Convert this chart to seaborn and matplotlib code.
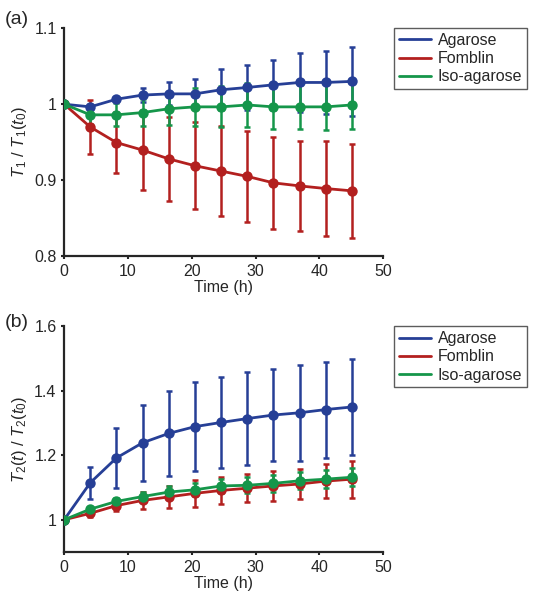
import numpy as np
import pandas as pd
import matplotlib
matplotlib.use('Agg')
import matplotlib.pyplot as plt
import seaborn as sns
from matplotlib.lines import Line2D
from matplotlib.ticker import FuncFormatter

# Dados
tempo = [0, 4.1, 8.2, 12.3, 16.4, 20.5, 24.6, 28.7, 32.8, 36.9, 41.0, 45.1]
series = ['Agarose', 'Fomblin', 'Iso-agarose']

# (a) T1 / T1(t0)
t1_agarose = [1.0, 0.9965, 1.0066, 1.012, 1.0136, 1.0136, 1.019, 1.022, 1.0255, 1.0286, 1.0286, 1.030]
t1_agarose_err = [0.0, 0.003, 0.003, 0.009, 0.015, 0.020, 0.027, 0.029, 0.033, 0.039, 0.041, 0.045]
t1_fomblin = [1.0, 0.970, 0.9495, 0.9396, 0.928, 0.919, 0.912, 0.905, 0.8965, 0.8925, 0.889, 0.886]
t1_fomblin_err = [0.0, 0.035, 0.0405, 0.0526, 0.0555, 0.057, 0.059, 0.060, 0.0605, 0.0595, 0.062, 0.062]
t1_iso = [1.0, 0.986, 0.986, 0.989, 0.994, 0.9965, 0.9965, 0.999, 0.9965, 0.9965, 0.9965, 0.999]
t1_iso_err = [0.0, 0.012, 0.015, 0.018, 0.021, 0.025, 0.027, 0.029, 0.029, 0.029, 0.031, 0.031]

# (b) T2(t) / T2(t0)
t2_agarose = [1.0, 1.115, 1.192, 1.239, 1.268, 1.289, 1.302, 1.314, 1.325, 1.332, 1.342, 1.350]
t2_agarose_err = [0.0, 0.05, 0.094, 0.118, 0.132, 0.139, 0.141, 0.145, 0.144, 0.149, 0.149, 0.148]
t2_fomblin = [1.0, 1.020, 1.044, 1.060, 1.071, 1.082, 1.091, 1.098, 1.105, 1.111, 1.120, 1.126]
t2_fomblin_err = [0.0, 0.010, 0.018, 0.026, 0.035, 0.041, 0.042, 0.043, 0.046, 0.048, 0.053, 0.057]
t2_iso = [1.0, 1.033, 1.057, 1.072, 1.086, 1.093, 1.105, 1.107, 1.113, 1.121, 1.126, 1.132]
t2_iso_err = [0.0, 0.005, 0.010, 0.015, 0.018, 0.020, 0.022, 0.025, 0.026, 0.027, 0.028, 0.028]

cores = {'Agarose': '#263f96', 'Fomblin': '#b3201f', 'Iso-agarose': '#15964a'}

sns.set_style('ticks')
plt.rcParams['font.family'] = ['Liberation Sans', 'DejaVu Sans']
plt.rcParams['mathtext.fontset'] = 'custom'
plt.rcParams['mathtext.rm'] = 'Liberation Sans'
plt.rcParams['mathtext.it'] = 'Liberation Sans:italic'


def monta_df(vals, errs):
    linhas = []
    for nome, v, e in zip(series, vals, errs):
        for t, y, s in zip(tempo, v, e):
            linhas.append({'Tempo': t, 'Valor': y, 'Erro': s, 'Serie': nome})
    return pd.DataFrame(linhas)


df_a = monta_df([t1_agarose, t1_fomblin, t1_iso], [t1_agarose_err, t1_fomblin_err, t1_iso_err])
df_b = monta_df([t2_agarose, t2_fomblin, t2_iso], [t2_agarose_err, t2_fomblin_err, t2_iso_err])

fig = plt.figure(figsize=(5.39, 6.00), dpi=100)
ax_a = fig.add_axes([0.119, 0.573, 0.592, 0.380])
ax_b = fig.add_axes([0.119, 0.080, 0.592, 0.376])

# ordem de desenho: verde por cima
ordem = ['Fomblin', 'Agarose', 'Iso-agarose']


def desenha(ax, df):
    for nome in ordem:
        d = df[df['Serie'] == nome]
        ax.errorbar(d['Tempo'], d['Valor'], yerr=d['Erro'], fmt='none',
                    ecolor=cores[nome], elinewidth=1.8, capsize=2.5, capthick=1.8, zorder=2)
        sns.lineplot(data=d, x='Tempo', y='Valor', color=cores[nome], marker='o',
                     markersize=7.5, markeredgewidth=0, linewidth=2, ax=ax,
                     legend=False, zorder=3)
    ax.set_xlim(0, 50)
    ax.set_xticks([0, 10, 20, 30, 40, 50])
    ax.set_xlabel('Time (h)', fontsize=11.5, labelpad=1)
    ax.tick_params(labelsize=11.5, width=1.5, length=2.5, direction='out', pad=3)
    for s in ['left', 'bottom']:
        ax.spines[s].set_linewidth(1.6)
    sns.despine(ax=ax)
    ax.yaxis.set_major_formatter(FuncFormatter(lambda v, p: f'{v:g}'))
    handles = [Line2D([], [], color=cores[n], linewidth=2) for n in series]
    leg = ax.legend(handles, series, loc='upper left', bbox_to_anchor=(1.035, 1.0),
                    fontsize=11.5, frameon=True, fancybox=False, handlelength=2.0,
                    handletextpad=0.4, borderpad=0.3, labelspacing=0.2,
                    borderaxespad=0)
    leg.get_frame().set_edgecolor('#333333')
    leg.get_frame().set_linewidth(1.0)


desenha(ax_a, df_a)
ax_a.set_ylim(0.8, 1.1)
ax_a.set_yticks([0.8, 0.9, 1.0, 1.1])
ax_a.set_ylabel(r'$T_1$ / $T_1$($t_0$)', fontsize=12, labelpad=4)

desenha(ax_b, df_b)
ax_b.set_ylim(0.9, 1.6)
ax_b.set_yticks([1.0, 1.2, 1.4, 1.6])
ax_b.set_ylabel(r'$T_2$($t$) / $T_2$($t_0$)', fontsize=12, labelpad=4)

fig.text(0.008, 0.968, '(a)', fontsize=14, va='center')
fig.text(0.008, 0.462, '(b)', fontsize=14, va='center')

fig.savefig('out.png', dpi=100)
